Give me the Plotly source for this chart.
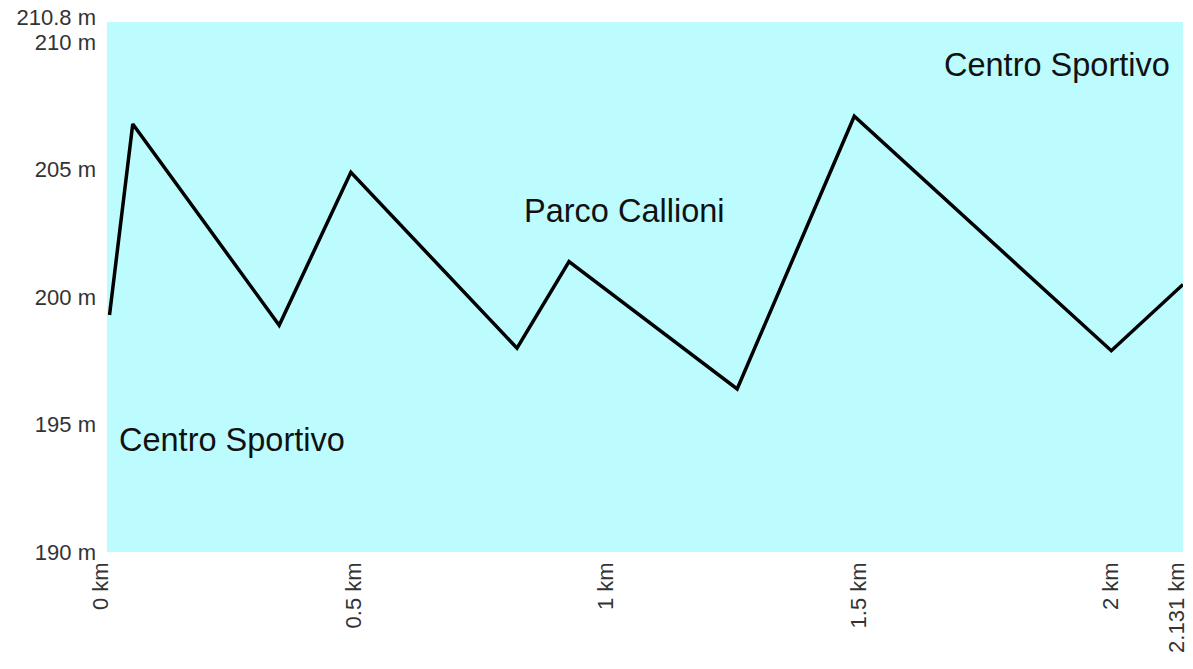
import plotly.graph_objects as go

# Elevation profile data (distance in km, elevation in m)
distance_km = [0.005, 0.051, 0.341, 0.483, 0.812, 0.915, 1.248, 1.480, 1.989, 2.131]
elevation_m = [199.3, 206.8, 198.9, 204.9, 198.0, 201.4, 196.4, 207.1, 197.9, 200.5]

y_tickvals = [190, 195, 200, 205, 210]
y_ticktext = ["190 m", "195 m", "200 m", "205 m", "210 m"]
y_max_val = [210.8]
y_max_text = ["210.8 m"]
x_tickvals = [0, 0.5, 1, 1.5, 2, 2.131]
x_ticktext = ["0 km", "0.5 km", "1 km", "1.5 km", "2 km", "2.131 km"]

places = ["Centro Sportivo", "Parco Callioni", "Centro Sportivo"]
place_x = [0.02, 1.024, 2.11]
place_y = [194.4, 203.4, 209.1]
place_anchor = ["left", "center", "right"]

FONT = "Liberation Sans, Arial, sans-serif"
Y_RANGE = [190, 210.8]

fig = go.Figure()
fig.add_trace(go.Scatter(
    x=distance_km, y=elevation_m, mode="lines",
    line=dict(color="black", width=3.5), hoverinfo="skip", showlegend=False,
))
# invisible helper trace so the second y-axis (top label) is drawn
fig.add_trace(go.Scatter(x=[None], y=[None], yaxis="y2", showlegend=False,
                         hoverinfo="skip"))

for name, px, py, anc in zip(places, place_x, place_y, place_anchor):
    fig.add_annotation(x=px, y=py, xref="x", yref="y", text=name, showarrow=False,
                       xanchor=anc, yanchor="middle",
                       font=dict(family=FONT, size=32.5, color="#111"))

common_y = dict(range=Y_RANGE, showgrid=False, zeroline=False, ticks="",
                showline=False, ticklabelstandoff=10, automargin=False,
                ticklabeloverflow="allow")

fig.update_layout(
    width=1193, height=669,
    margin=dict(l=107, r=10, t=22, b=117, autoexpand=False),
    paper_bgcolor="white", plot_bgcolor="#bcfcfe",
    font=dict(family=FONT, size=22, color="#333"),
    xaxis=dict(range=[0, 2.131], tickvals=x_tickvals, ticktext=x_ticktext,
               tickangle=-90, showgrid=False, zeroline=False, ticks="",
               showline=False, ticklabelstandoff=5, ticklabelshift=-6,
               ticklabeloverflow="allow", automargin=False),
    yaxis=dict(tickvals=y_tickvals, ticktext=y_ticktext, **common_y),
    yaxis2=dict(overlaying="y", side="left", tickvals=y_max_val,
                ticktext=y_max_text, ticklabelshift=-5, **common_y),
)

fig.write_html("out.html", config={"displayModeBar": False},
               post_script="document.body.style.margin='0';document.body.style.overflow='hidden';")
